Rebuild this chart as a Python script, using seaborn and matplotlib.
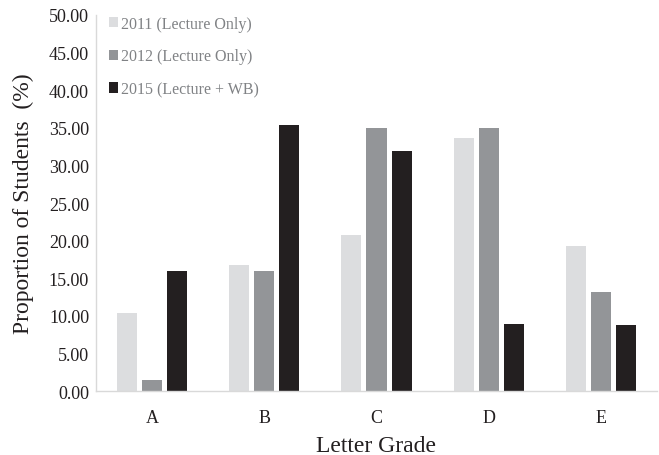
import matplotlib
matplotlib.use("Agg")
import matplotlib.pyplot as plt
import seaborn as sns
import pandas as pd

grades = ["A", "B", "C", "D", "E"]
series_names = ["2011 (Lecture Only)", "2012 (Lecture Only)", "2015 (Lecture + WB)"]
vals_2011 = [10.34, 16.80, 20.70, 33.60, 19.30]
vals_2012 = [1.45, 16.00, 35.00, 35.00, 13.20]
vals_2015 = [16.00, 35.30, 31.90, 8.95, 8.85]
yticks = [0, 5, 10, 15, 20, 25, 30, 35, 40, 45, 50]
colors = ["#DCDDDF", "#939598", "#231F20"]

rows = []
for name, vals in zip(series_names, [vals_2011, vals_2012, vals_2015]):
    for g, v in zip(grades, vals):
        rows.append({"Grade": g, "Series": name, "Value": v})
df = pd.DataFrame(rows)

sns.set_style("white")
plt.rcParams["font.family"] = ["Liberation Serif", "DejaVu Serif"]

fig = plt.figure(figsize=(6.59, 4.56), dpi=100)
ax = fig.add_axes([96/659, 1-392.3/456, (657-96)/659, (392.3-15.8)/456])

sns.barplot(data=df, x="Grade", y="Value", hue="Series", order=grades,
            hue_order=series_names, palette=colors, width=0.67, gap=0.2,
            saturation=1, ax=ax, errorbar=None, linewidth=0)

ax.set_xlim(-0.5, 4.5)
ax.set_ylim(0, 50)
ax.set_yticks(yticks)
ax.set_yticklabels([f"{t:.2f}" for t in yticks])
ax.tick_params(axis="both", length=0, labelsize=13, colors="#231F20")
ax.tick_params(axis="x", pad=13)
ax.tick_params(axis="y", pad=5)

for s in ["top", "right"]:
    ax.spines[s].set_visible(False)
for s in ["left", "bottom"]:
    ax.spines[s].set_color("#D9D9D9")
    ax.spines[s].set_linewidth(1.0)

ax.set_xlabel("Letter Grade", fontsize=17, color="#231F20", labelpad=6)
ax.set_ylabel("Proportion of Students  (%)", fontsize=17, color="#231F20", labelpad=11)

leg = ax.legend(loc="upper left", bbox_to_anchor=(-0.003, 1.036), frameon=False,
                fontsize=11.5, handlelength=0.6, handleheight=0.6,
                handletextpad=0.2, labelspacing=1.05)
for t in leg.get_texts():
    t.set_color("#808285")

fig.savefig("out.png", dpi=100)
